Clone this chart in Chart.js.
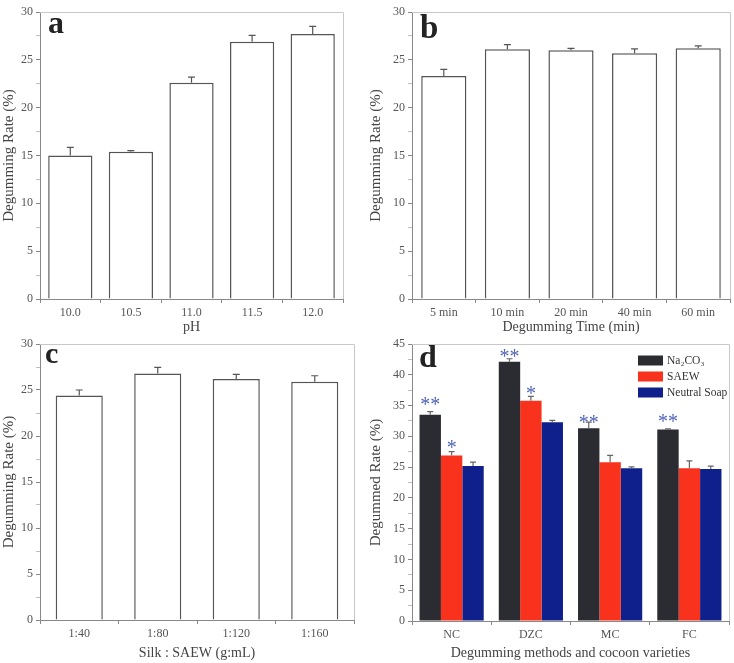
<!DOCTYPE html>
<html>
<head>
<meta charset="utf-8">
<script src="https://cdn.jsdelivr.net/npm/chart.js@4.4.1/dist/chart.umd.min.js"></script>
<style>
  body { margin: 0; background: #fff; width: 734px; height: 663px; position: relative; overflow: hidden; }
  canvas { position: absolute; }
</style>
</head>
<body>
<canvas id="chartA" width="367" height="340" style="left:0;top:0"></canvas>
<canvas id="chartB" width="367" height="340" style="left:367px;top:0"></canvas>
<canvas id="chartC" width="367" height="332" style="left:0;top:330px"></canvas>
<canvas id="chartD" width="367" height="332" style="left:367px;top:330px"></canvas>
<script>
// a: pH
const phLabels = ['10.0', '10.5', '11.0', '11.5', '12.0'];
const phRate = [15.0, 15.4, 22.6, 26.9, 27.7];
const phErr = [0.85, 0.1, 0.6, 0.65, 0.8];
// b: degumming time
const timeLabels = ['5 min', '10 min', '20 min', '40 min', '60 min'];
const timeRate = [23.3, 26.1, 26.0, 25.7, 26.2];
const timeErr = [0.7, 0.5, 0.2, 0.45, 0.25];
// c: silk : SAEW ratio
const ratioLabels = ['1:40', '1:80', '1:120', '1:160'];
const ratioRate = [24.4, 26.8, 26.2, 25.9];
const ratioErr = [0.6, 0.65, 0.5, 0.65];
// d: methods x cocoon varieties
const cocoonLabels = ['NC', 'DZC', 'MC', 'FC'];
const na2co3Rate = [33.5, 42.1, 31.3, 31.1];
const na2co3Err = [0.5, 0.5, 1.0, 0.1];
const saewRate = [26.9, 35.8, 25.8, 24.8];
const saewErr = [0.6, 0.7, 1.1, 1.2];
const soapRate = [25.2, 32.3, 24.8, 24.7];
const soapErr = [0.6, 0.3, 0.25, 0.45];
const na2co3Sig = ['**', '**', '**', '**'];
const na2co3SigAt = [35.5, 43.3, 32.65, 32.75];
const saewSig = ['*', '*', '', ''];
const saewSigAt = [28.6, 37.4, null, null];

Chart.defaults.font.family = '"Liberation Serif", "Times New Roman", serif';
Chart.defaults.color = '#444';

const framePlugin = {
  id: 'frame',
  afterDraw(chart) {
    const { ctx, chartArea: a } = chart;
    ctx.save();
    ctx.strokeStyle = '#c8c8c8';
    ctx.lineWidth = 1;
    ctx.beginPath();
    ctx.moveTo(a.left, a.top + 0.5);
    ctx.lineTo(a.right + 0.5, a.top + 0.5);
    ctx.lineTo(a.right + 0.5, a.bottom);
    ctx.stroke();
    ctx.restore();
  }
};

const errorBarPlugin = {
  id: 'errorBars',
  afterDatasetsDraw(chart, args, opts) {
    const { ctx } = chart;
    const y = chart.scales.y;
    ctx.save();
    ctx.strokeStyle = opts.color || '#555';
    ctx.lineWidth = 1.2;
    chart.data.datasets.forEach((ds, i) => {
      if (!ds.errors) return;
      chart.getDatasetMeta(i).data.forEach((bar, j) => {
        const top = y.getPixelForValue(ds.data[j]);
        const end = y.getPixelForValue(ds.data[j] + ds.errors[j]);
        const half = (opts.cap || 6) / 2;
        ctx.beginPath();
        ctx.moveTo(bar.x, top);
        ctx.lineTo(bar.x, end);
        ctx.moveTo(bar.x - half, end);
        ctx.lineTo(bar.x + half, end);
        ctx.stroke();
      });
    });
    ctx.restore();
  }
};

const sigPlugin = {
  id: 'sigMarks',
  afterDatasetsDraw(chart) {
    const { ctx } = chart;
    const y = chart.scales.y;
    ctx.save();
    ctx.fillStyle = '#5065b5';
    ctx.font = '20px "Liberation Serif", serif';
    ctx.textAlign = 'center';
    ctx.textBaseline = 'alphabetic';
    chart.data.datasets.forEach((ds, i) => {
      if (!ds.sig) return;
      chart.getDatasetMeta(i).data.forEach((bar, j) => {
        if (!ds.sig[j]) return;
        ctx.fillText(ds.sig[j], bar.x, y.getPixelForValue(ds.sigAt[j]) + 9);
      });
    });
    ctx.restore();
  }
};

const panelLabelPlugin = {
  id: 'panelLabel',
  afterDraw(chart, args, opts) {
    if (!opts.text) return;
    const { ctx, chartArea: a } = chart;
    ctx.save();
    ctx.fillStyle = '#222';
    ctx.font = 'bold ' + opts.size + 'px "Liberation Serif", serif';
    ctx.textBaseline = 'alphabetic';
    ctx.fillText(opts.text, a.left + opts.dx, a.top + opts.dy);
    ctx.restore();
  }
};

const boxLegendPlugin = {
  id: 'boxLegend',
  afterDraw(chart, args, opts) {
    if (!opts.show) return;
    const { ctx, chartArea: a } = chart;
    ctx.save();
    ctx.font = '11.5px "Liberation Serif", serif';
    ctx.textBaseline = 'middle';
    chart.data.datasets.forEach((ds, i) => {
      const cy = a.top + 16.5 + i * 16;
      const x = a.right - 91;
      ctx.fillStyle = ds.backgroundColor;
      ctx.fillRect(x, cy - 5, 25, 10);
      ctx.fillStyle = '#333';
      ctx.fillText(ds.label, x + 29, cy);
    });
    ctx.restore();
  }
};

function makeScales(yMax, yTitle, xTitle, yWidth, xHeight, titlePadBottom) {
  return {
    x: {
      grid: { drawOnChartArea: false, offset: true, tickLength: 4, color: '#888' },
      border: { color: '#888' },
      ticks: { font: { size: 12 }, color: '#555', padding: 3 },
      title: { display: true, text: xTitle, font: { size: 14 }, color: '#444', padding: { top: 0, bottom: titlePadBottom } },
      afterFit: s => { s.height = xHeight; }
    },
    y: {
      min: 0, max: yMax,
      grid: {
        drawOnChartArea: false, tickLength: 4,
        color: c => (c.tick && c.tick.value % 5 === 0) ? '#888' : '#bbb'
      },
      border: { color: '#888' },
      ticks: {
        stepSize: 2.5, autoSkip: false, font: { size: 12 }, color: '#555', padding: 3,
        callback: v => (v % 5 === 0 ? v : '')
      },
      title: { display: true, text: yTitle, font: { size: 15 }, color: '#444', padding: { top: 0, bottom: 0 } },
      afterFit: s => { s.width = yWidth; }
    }
  };
}

function whiteBars(id, labels, values, errs, cfg) {
  new Chart(document.getElementById(id), {
    type: 'bar',
    data: {
      labels: labels,
      datasets: [{
        data: values,
        errors: errs,
        backgroundColor: '#fff',
        borderColor: '#555',
        borderWidth: 1.5,
        categoryPercentage: 1,
        barPercentage: cfg.barPct
      }]
    },
    options: {
      responsive: false,
      animation: false,
      layout: { padding: { top: cfg.padTop, right: cfg.padRight, left: 0, bottom: 0 } },
      scales: makeScales(30, 'Degumming Rate (%)', cfg.xTitle, cfg.yWidth, cfg.xHeight, cfg.titlePad),
      plugins: {
        legend: { display: false },
        tooltip: { enabled: false },
        errorBars: { color: '#555', cap: 7 },
        panelLabel: cfg.label
      }
    },
    plugins: [framePlugin, errorBarPlugin, panelLabelPlugin]
  });
}

whiteBars('chartA', phLabels, phRate, phErr, {
  barPct: 0.73, padTop: 12, padRight: 24, yWidth: 40, xHeight: 41, titlePad: 4, xTitle: 'pH',
  label: { text: 'a', size: 32, dx: 8, dy: 21 }
});
whiteBars('chartB', timeLabels, timeRate, timeErr, {
  barPct: 0.71, padTop: 12, padRight: 4, yWidth: 45, xHeight: 41, titlePad: 4, xTitle: 'Degumming Time (min)',
  label: { text: 'b', size: 33, dx: 8, dy: 26 }
});
whiteBars('chartC', ratioLabels, ratioRate, ratioErr, {
  barPct: 0.6, padTop: 14, padRight: 13, yWidth: 40, xHeight: 42, titlePad: 0, xTitle: 'Silk : SAEW (g:mL)',
  label: { text: 'c', size: 30, dx: 5, dy: 19 }
});

new Chart(document.getElementById('chartD'), {
  type: 'bar',
  data: {
    labels: cocoonLabels,
    datasets: [
      { label: 'Na\u2082CO\u2083', data: na2co3Rate, errors: na2co3Err, sig: na2co3Sig, sigAt: na2co3SigAt,
        backgroundColor: '#2b2c31', categoryPercentage: 0.81, barPercentage: 1 },
      { label: 'SAEW', data: saewRate, errors: saewErr, sig: saewSig, sigAt: saewSigAt,
        backgroundColor: '#f8321c', categoryPercentage: 0.81, barPercentage: 1 },
      { label: 'Neutral Soap', data: soapRate, errors: soapErr,
        backgroundColor: '#0f1f8c', categoryPercentage: 0.81, barPercentage: 1 }
    ]
  },
  options: {
    responsive: false,
    animation: false,
    layout: { padding: { top: 14, right: 5, left: 0, bottom: 0 } },
    scales: makeScales(45, 'Degummed Rate (%)', 'Degumming methods and cocoon varieties', 45, 41, 0),
    plugins: {
      legend: { display: false },
      tooltip: { enabled: false },
      errorBars: { color: '#666', cap: 6 },
      panelLabel: { text: 'd', size: 32, dx: 7, dy: 23 },
      boxLegend: { show: true }
    }
  },
  plugins: [framePlugin, errorBarPlugin, sigPlugin, panelLabelPlugin, boxLegendPlugin]
});
</script>
</body>
</html>
